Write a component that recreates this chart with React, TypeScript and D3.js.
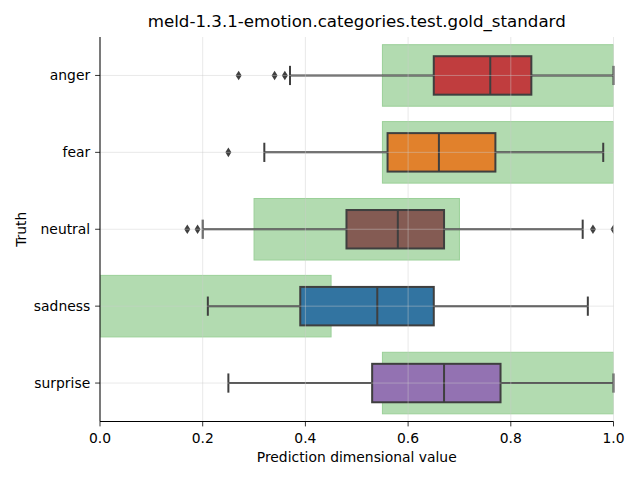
import React from "react";
import * as d3 from "d3";

const categories = ["anger", "fear", "neutral", "sadness", "surprise"];
const boxColors = ["#c03d3e", "#e1812c", "#845b53", "#3274a1", "#9372b2"];
const whiskerLow = [0.37, 0.32, 0.2, 0.21, 0.25];
const q1 = [0.65, 0.56, 0.48, 0.39, 0.53];
const median = [0.76, 0.66, 0.58, 0.54, 0.67];
const q3 = [0.84, 0.77, 0.67, 0.65, 0.78];
const whiskerHigh = [1.0, 0.98, 0.94, 0.95, 1.0];
const outliers = [[0.27, 0.34, 0.36], [0.25], [0.17, 0.19, 0.96, 1.0], [], []];
const goldLow = [0.55, 0.55, 0.3, 0.0, 0.55];
const goldHigh = [1.0, 1.0, 0.7, 0.45, 1.0];
const xTicks = [0, 0.2, 0.4, 0.6, 0.8, 1.0];

const W = 640, H = 480;
const left = 100, right = 613.5, top = 37, bottom = 421.5;
const font = "DejaVu Sans, sans-serif";
const lineColor = "#3f3f3f";

export default function App() {
  const x = d3.scaleLinear().domain([0, 1]).range([left, right]);
  const y = d3.scaleBand().domain(categories).range([top, bottom]);
  const bw = y.bandwidth();
  const cy = (c: string) => (y(c) as number) + bw / 2;
  const boxH = bw * 0.5;
  const goldH = bw * 0.8;
  const capH = boxH * 0.5;
  const diamond = "M0,-4.8L3,0L0,4.8L-3,0Z";
  const lw = 2;

  return (
    <svg width={W} height={H} style={{ position: "fixed", left: 0, top: 0, background: "#fff" }} fontFamily={font}>
      <rect x={0} y={0} width={W} height={H} fill="#fff" />
      <defs>
        <clipPath id="ax">
          <rect x={left} y={top} width={right - left} height={bottom - top} />
        </clipPath>
      </defs>
      <g clipPath="url(#ax)">
        {categories.map((c, i) => (
          <rect key={"g" + c} x={x(goldLow[i])} y={cy(c) - goldH / 2} width={x(goldHigh[i]) - x(goldLow[i])} height={goldH}
            fill="#b2dbb0" stroke="#9bd099" strokeWidth={1} />
        ))}
      </g>
      {categories.map((c, i) => {
        const m = cy(c);
        return (
          <g key={"b" + c}>
            <line x1={x(whiskerLow[i])} x2={x(q1[i])} y1={m} y2={m} stroke={lineColor} strokeWidth={lw} />
            <line x1={x(q3[i])} x2={x(whiskerHigh[i])} y1={m} y2={m} stroke={lineColor} strokeWidth={lw} />
            <line x1={x(whiskerLow[i])} x2={x(whiskerLow[i])} y1={m - capH / 2} y2={m + capH / 2} stroke={lineColor} strokeWidth={lw} />
            <line x1={x(whiskerHigh[i])} x2={x(whiskerHigh[i])} y1={m - capH / 2} y2={m + capH / 2} stroke={lineColor} strokeWidth={lw} />
            <rect x={x(q1[i])} y={m - boxH / 2} width={x(q3[i]) - x(q1[i])} height={boxH} fill={boxColors[i]} stroke={lineColor} strokeWidth={lw} />
            <line x1={x(median[i])} x2={x(median[i])} y1={m - boxH / 2} y2={m + boxH / 2} stroke={lineColor} strokeWidth={lw} />
          </g>
        );
      })}
      <g clipPath="url(#ax)">
        {categories.map((c, i) =>
          outliers[i].map((v, j) => (
            <path key={c + j} d={diamond} transform={`translate(${x(v)},${cy(c)})`} fill={lineColor} />
          ))
        )}
      </g>
      {/* grid */}
      <g stroke="#cccccc" strokeOpacity={0.55} strokeWidth={0.8}>
        {xTicks.map((t) => (
          <line key={"gx" + t} x1={x(t)} x2={x(t)} y1={top} y2={bottom} />
        ))}
        {categories.map((c) => (
          <line key={"gy" + c} x1={left} x2={right} y1={cy(c)} y2={cy(c)} />
        ))}
      </g>
      {/* spines */}
      <line x1={left} x2={left} y1={top} y2={bottom} stroke="#000" strokeWidth={1} />
      <line x1={left} x2={right} y1={bottom} y2={bottom} stroke="#000" strokeWidth={1} />
      {/* x ticks */}
      {xTicks.map((t) => (
        <g key={"xt" + t}>
          <line x1={x(t)} x2={x(t)} y1={bottom} y2={bottom + 4.9} stroke="#000" strokeWidth={0.8} />
          <text x={x(t)} y={bottom + 21} fontSize={13.89} textAnchor="middle" fill="#000">{t.toFixed(1)}</text>
        </g>
      ))}
      {categories.map((c) => (
        <g key={"yt" + c}>
          <line x1={left - 4.9} x2={left} y1={cy(c)} y2={cy(c)} stroke="#000" strokeWidth={0.8} />
          <text x={left - 9.8} y={cy(c)} dy="0.35em" fontSize={13.89} textAnchor="end" fill="#000">{c}</text>
        </g>
      ))}
      <text x={(left + right) / 2} y={462} fontSize={13.89} textAnchor="middle" fill="#000">Prediction dimensional value</text>
      <text transform={`translate(26,${(top + bottom) / 2}) rotate(-90)`} fontSize={13.89} textAnchor="middle" fill="#000">Truth</text>
      <text x={(left + right) / 2} y={27} fontSize={16.67} textAnchor="middle" fill="#000">meld-1.3.1-emotion.categories.test.gold_standard</text>
    </svg>
  );
}
